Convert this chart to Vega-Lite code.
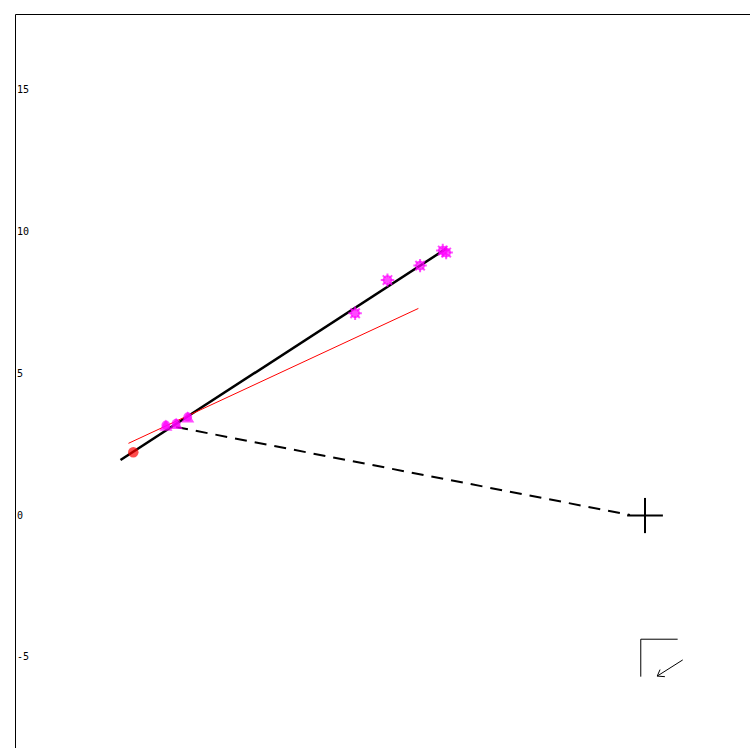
{
  "$schema": "https://vega.github.io/schema/vega-lite/v6.json",
  "width": 736,
  "height": 734,
  "autosize": {"type": "none"},
  "padding": {"left": 15, "top": 14, "right": 0, "bottom": 0},
  "background": "white",
  "config": {
    "view": {"stroke": "black", "strokeWidth": 1}
  },
  "layer": [
    {
      "data": {"values": [
        {"east": -18.49, "north": 1.956, "east2": -6.99, "north2": 9.42}
      ]},
      "mark": {"type": "rule", "color": "black", "strokeWidth": 2.5},
      "encoding": {
        "x": {"field": "east", "type": "quantitative", "scale": {"domain": [-22.21, 3.736], "nice": false, "zero": false}, "axis": null},
        "y": {"field": "north", "type": "quantitative", "scale": {"domain": [-8.195, 17.68], "nice": false, "zero": false},
          "axis": {"orient": "left", "values": [-5, 0, 5, 10, 15], "domain": false, "ticks": false, "grid": false, "title": null,
            "labelAlign": "left", "labelPadding": -2, "labelFont": "DejaVu Sans Mono", "labelFontSize": 10, "labelColor": "black",
            "labelExpr": "datum.value < 0 ? '-' + abs(datum.value) : '' + datum.value"}},
        "x2": {"field": "east2"}, "y2": {"field": "north2"}}
    },
    {
      "data": {"values": [
        {"east": -18.21, "north": 2.545, "east2": -7.99, "north2": 7.30}
      ]},
      "mark": {"type": "rule", "color": "#ff0000", "strokeWidth": 1},
      "encoding": {"x": {"field": "east", "type": "quantitative"}, "y": {"field": "north", "type": "quantitative"}, "x2": {"field": "east2"}, "y2": {"field": "north2"}}
    },
    {
      "data": {"values": [
        {"east": -16.53, "north": 3.12, "east2": -0.53, "north2": 0.02}
      ]},
      "mark": {"type": "rule", "color": "black", "strokeWidth": 2, "strokeDash": [12, 8]},
      "encoding": {"x": {"field": "east", "type": "quantitative"}, "y": {"field": "north", "type": "quantitative"}, "x2": {"field": "east2"}, "y2": {"field": "north2"}}
    },
    {
      "data": {"values": [
        {"east": -0.63, "north": 0, "east2": 0.63, "north2": 0},
        {"east": 0, "north": 0.62, "east2": 0, "north2": -0.62}
      ]},
      "mark": {"type": "rule", "color": "black", "strokeWidth": 2},
      "encoding": {"x": {"field": "east", "type": "quantitative"}, "y": {"field": "north", "type": "quantitative"}, "x2": {"field": "east2"}, "y2": {"field": "north2"}}
    },
    {
      "data": {"values": [
        {"east": -0.15, "north": -4.36, "east2": 1.15, "north2": -4.36},
        {"east": -0.15, "north": -4.36, "east2": -0.15, "north2": -5.68},
        {"east": 1.33, "north": -5.09, "east2": 0.43, "north2": -5.66},
        {"east": 0.43, "north": -5.66, "east2": 0.53, "north2": -5.43},
        {"east": 0.43, "north": -5.66, "east2": 0.70, "north2": -5.68}
      ]},
      "mark": {"type": "rule", "color": "black", "strokeWidth": 1},
      "encoding": {"x": {"field": "east", "type": "quantitative"}, "y": {"field": "north", "type": "quantitative"}, "x2": {"field": "east2"}, "y2": {"field": "north2"}}
    },
    {
      "data": {"values": [
        {"east": -10.22, "north": 7.13},
        {"east": -9.08, "north": 8.30},
        {"east": -7.93, "north": 8.81},
        {"east": -7.13, "north": 9.34},
        {"east": -7.01, "north": 9.27}
      ]},
      "mark": {"type": "point", "color": "#ff00ff", "size": 60},
      "encoding": {"x": {"field": "east", "type": "quantitative"}, "y": {"field": "north", "type": "quantitative"}}
    },
    {
      "data": {"values": [
        {"east": -10.22, "north": 7.13},
        {"east": -9.08, "north": 8.30},
        {"east": -7.93, "north": 8.81},
        {"east": -7.13, "north": 9.34},
        {"east": -7.01, "north": 9.27}
      ]},
      "mark": {"type": "point", "shape": "M-1,0L1,0M0,-1L0,1M-0.7,-0.7L0.7,0.7M-0.7,0.7L0.7,-0.7", "color": "#ff00ff", "size": 180},
      "encoding": {"x": {"field": "east", "type": "quantitative"}, "y": {"field": "north", "type": "quantitative"}}
    },
    {
      "data": {"values": [
        {"east": -16.89, "north": 3.19},
        {"east": -16.53, "north": 3.25},
        {"east": -16.12, "north": 3.48}
      ]},
      "mark": {"type": "circle", "color": "#ff00ff", "size": 80},
      "encoding": {"x": {"field": "east", "type": "quantitative"}, "y": {"field": "north", "type": "quantitative"}}
    },
    {
      "data": {"values": [
        {"east": -16.89, "north": 3.19},
        {"east": -16.53, "north": 3.25},
        {"east": -16.12, "north": 3.48}
      ]},
      "mark": {"type": "point", "shape": "triangle-up", "filled": true, "color": "#ff00ff", "size": 170},
      "encoding": {"x": {"field": "east", "type": "quantitative"}, "y": {"field": "north", "type": "quantitative"}}
    },
    {
      "data": {"values": [{"east": -18.04, "north": 2.23}]},
      "mark": {"type": "circle", "color": "#ff0000", "size": 110},
      "encoding": {"x": {"field": "east", "type": "quantitative"}, "y": {"field": "north", "type": "quantitative"}}
    },
    {
      "data": {"values": [{"east": -18.04, "north": 2.23}]},
      "mark": {"type": "point", "shape": "star", "filled": true, "color": "#ff0000", "size": 260},
      "encoding": {"x": {"field": "east", "type": "quantitative"}, "y": {"field": "north", "type": "quantitative"}}
    },
    {
      "data": {"values": [
        {"label": "WDS 21549-6535", "east": -18.65, "north": 16.23},
        {"label": "MLO  10", "east": -10.19, "north": 16.23},
        {"label": "(LIN2)", "east": 0.39, "north": 16.23},
        {"label": "E", "east": 1.60, "north": -4.32},
        {"label": "N", "east": -0.18, "north": -6.15}
      ]},
      "mark": {"type": "text", "color": "black"},
      "encoding": {"x": {"field": "east", "type": "quantitative"}, "y": {"field": "north", "type": "quantitative"}, "text": {"field": "label"}}
    }
  ]
}
